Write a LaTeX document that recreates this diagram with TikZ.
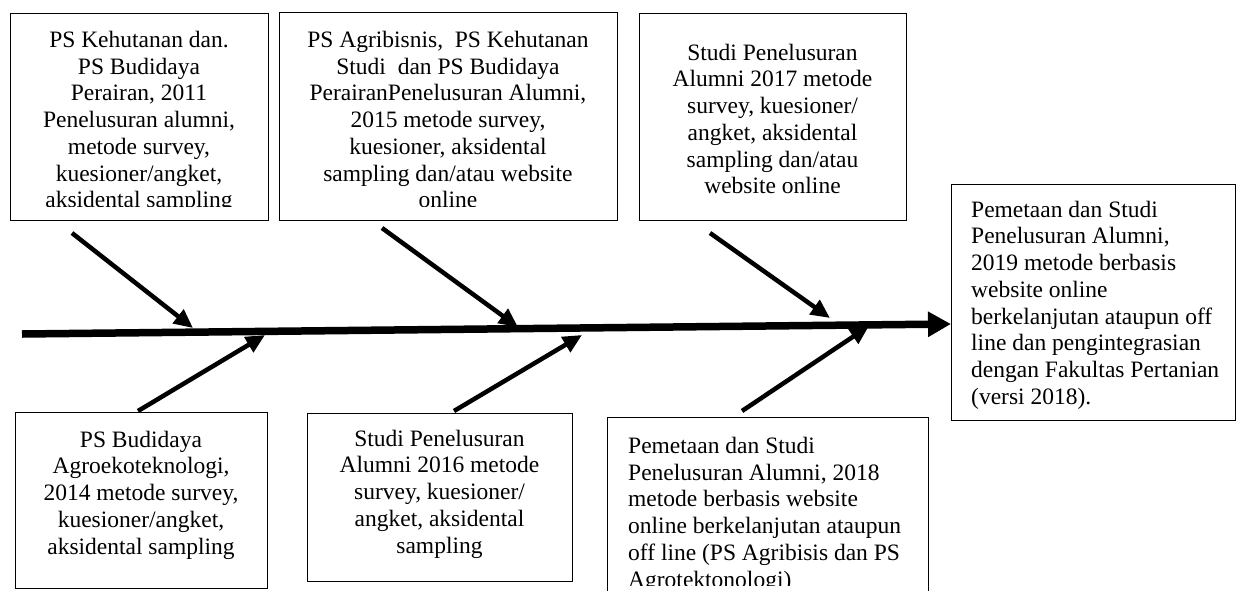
\documentclass[tikz,border=0pt]{standalone}
\usepackage{fontspec}
\setmainfont{Liberation Serif}
\usetikzlibrary{arrows.meta}
\begin{document}
\begin{tikzpicture}[x=1pt,y=-1pt,
  box/.style={draw=black, line width=1.3pt, inner sep=0pt, anchor=north west},
  txt/.style={font=\fontsize{23.5}{26.7}\selectfont, inner sep=0pt},
  spine/.style={line width=7.5pt, -{Triangle[length=23pt,width=24pt]}},
  bone/.style={line width=4.5pt, -{Triangle[length=19pt,width=17pt]}},
]
\useasboundingbox (0,0) rectangle (1237,590);

% frames
\node[box, minimum width=258pt, minimum height=207pt] (t1) at (10,13) {};
\node[box, minimum width=338pt, minimum height=208pt] (t2) at (279,12) {};
\node[box, minimum width=267pt, minimum height=207pt] (t3) at (639,13) {};
\node[box, minimum width=284pt, minimum height=236pt] (r)  at (951,184) {};
\node[box, minimum width=252pt, minimum height=176pt] (b1) at (15,412) {};
\node[box, minimum width=265pt, minimum height=168pt] (b2) at (307,413) {};
\node[box, minimum width=321pt, minimum height=200pt] (b3) at (607,417) {};

% texts (overflowing ones are cut at the inner margin)
\begin{scope}
  \clip (10,13) rectangle (268,206);
  \node[txt, align=center, anchor=north] (t1txt) at (139,31)
    {PS Kehutanan dan.\\PS Budidaya\\Perairan, 2011\\Penelusuran alumni,\\metode survey,\\kuesioner/angket,\\aksidental sampling};
\end{scope}
\begin{scope}
  \clip (279,12) rectangle (617,206);
  \node[txt, align=center, anchor=north] (t2txt) at (448,31)
    {PS Agribisnis,\ \ PS Kehutanan\\Studi\ \ dan PS Budidaya\\PerairanPenelusuran Alumni,\\2015 metode survey,\\kuesioner, aksidental\\sampling dan/atau website\\online};
\end{scope}
\node[txt, align=center] (t3txt) at (772.5,119)
  {Studi Penelusuran\\Alumni 2017 metode\\survey, kuesioner/\\angket, aksidental\\sampling dan/atau\\website online};
\node[txt, align=left, anchor=west] (rtxt) at (971,305)
  {Pemetaan dan Studi\\Penelusuran Alumni,\\2019 metode berbasis\\website online\\berkelanjutan ataupun off\\line dan pengintegrasian\\dengan Fakultas Pertanian\\(versi 2018).};
\node[txt, align=center] (b1txt) at (141,495)
  {PS Budidaya\\Agroekoteknologi,\\2014 metode survey,\\kuesioner/angket,\\aksidental sampling};
\node[txt, align=center] (b2txt) at (439.5,494)
  {Studi Penelusuran\\Alumni 2016 metode\\survey, kuesioner/\\angket, aksidental\\sampling};
\begin{scope}
  \clip (607,417) rectangle (928,585);
  \node[txt, align=left, anchor=north west] (b3txt) at (628,437)
    {Pemetaan dan Studi\\Penelusuran Alumni, 2018\\metode berbasis website\\online berkelanjutan ataupun\\off line (PS Agribisis dan PS\\Agrotektonologi)};
\end{scope}

% spine and bones
\coordinate (s0) at (22,334);
\coordinate (s1) at (951,324);
\draw[spine] (s0) -- (s1);

\coordinate (a1s) at (72,233);  \coordinate (a1e) at (193,328);
\coordinate (a2s) at (382,228); \coordinate (a2e) at (518,327);
\coordinate (a3s) at (710,233); \coordinate (a3e) at (830,318);
\coordinate (c1s) at (138,411); \coordinate (c1e) at (265,335);
\coordinate (c2s) at (454,411); \coordinate (c2e) at (582,335);
\coordinate (c3s) at (742,411); \coordinate (c3e) at (869,326);
\draw[bone] (a1s) -- (a1e);
\draw[bone] (a2s) -- (a2e);
\draw[bone] (a3s) -- (a3e);
\draw[bone] (c1s) -- (c1e);
\draw[bone] (c2s) -- (c2e);
\draw[bone] (c3s) -- (c3e);
\end{tikzpicture}
\end{document}
